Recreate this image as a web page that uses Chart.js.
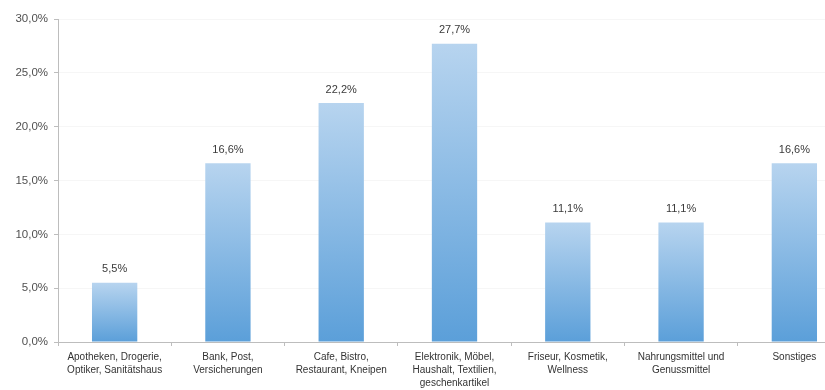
<!DOCTYPE html>
<html>
<head>
    <meta charset="UTF-8">
    <title>Branchenverteilung</title>
    <script src="https://cdn.jsdelivr.net/npm/chart.js"></script>
    <style>
        body { margin: 0; background: #fff; overflow: hidden; }
        .wrap { width: 851px; height: 390px; }
    </style>
</head>
<body>
    <div class="wrap"><canvas id="branchen"></canvas></div>

    <script>
        const categories = [
            ['Apotheken, Drogerie,', 'Optiker, Sanitätshaus'],
            ['Bank, Post,', 'Versicherungen'],
            ['Cafe, Bistro,', 'Restaurant, Kneipen'],
            ['Elektronik, Möbel,', 'Haushalt, Textilien,', 'geschenkartikel'],
            ['Friseur, Kosmetik,', 'Wellness'],
            ['Nahrungsmittel und', 'Genussmittel'],
            ['Sonstiges']
        ];
        const shares = [5.5, 16.6, 22.2, 27.7, 11.1, 11.1, 16.6];
        const yTicks = [0, 5, 10, 15, 20, 25, 30];

        const fmt = v => v.toFixed(1).replace('.', ',') + '%';

        function barGradient(ctx) {
            const chart = ctx.chart;
            if (!chart.chartArea || ctx.type !== 'data') return '#8dbde8';
            const y = chart.scales.y;
            const top = y.getPixelForValue(ctx.raw);
            const bottom = y.getPixelForValue(0);
            const g = chart.ctx.createLinearGradient(0, top, 0, bottom);
            g.addColorStop(0, '#b7d4ef');
            g.addColorStop(1, '#5b9fd9');
            return g;
        }

        // values above the bars
        const valueLabels = {
            id: 'valueLabels',
            afterDatasetsDraw(chart) {
                const c = chart.ctx;
                const meta = chart.getDatasetMeta(0);
                c.save();
                c.font = '11px "Liberation Sans", Arial, sans-serif';
                c.fillStyle = '#3a3a3a';
                c.textAlign = 'center';
                c.textBaseline = 'bottom';
                meta.data.forEach((bar, i) => {
                    c.fillText(fmt(shares[i]), bar.x, bar.y - 8);
                });
                c.restore();
            }
        };

        new Chart(document.getElementById('branchen'), {
            type: 'bar',
            data: {
                labels: categories,
                datasets: [{
                    data: shares,
                    backgroundColor: barGradient,
                    categoryPercentage: 1,
                    barPercentage: 0.4
                }]
            },
            options: {
                responsive: true,
                maintainAspectRatio: false,
                animation: false,
                layout: { padding: { top: 19, left: 0, right: 0, bottom: 0 } },
                plugins: {
                    legend: { display: false },
                    tooltip: { enabled: false }
                },
                scales: {
                    x: {
                        grid: {
                            display: true,
                            drawOnChartArea: false,
                            offset: true,
                            tickLength: 4,
                            color: '#bdbdbd'
                        },
                        border: { color: '#bdbdbd' },
                        ticks: {
                            color: '#333',
                            font: { family: '"Liberation Sans", Arial, sans-serif', size: 10, lineHeight: 1.3 },
                            maxRotation: 0,
                            autoSkip: false,
                            padding: 5
                        },
                        afterFit: s => { s.height = 48; }
                    },
                    y: {
                        min: 0,
                        max: 30,
                        afterBuildTicks: s => { s.ticks = yTicks.map(v => ({ value: v })); },
                        grid: {
                            color: '#f6f6f6',
                            tickLength: 4,
                            tickColor: '#bdbdbd'
                        },
                        border: { color: '#bdbdbd' },
                        ticks: {
                            color: '#505050',
                            font: { family: '"Liberation Sans", Arial, sans-serif', size: 11.5 },
                            padding: 6,
                            callback: v => fmt(v)
                        },
                        afterFit: s => { s.width = 58; }
                    }
                }
            },
            plugins: [valueLabels]
        });
    </script>
</body>
</html>
